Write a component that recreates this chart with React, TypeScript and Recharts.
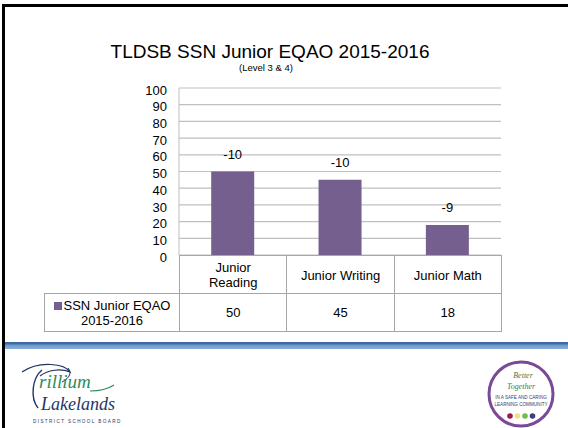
import React from "react";
import { BarChart, Bar, XAxis, YAxis, CartesianGrid, LabelList } from "recharts";

const categories = ["Junior Reading", "Junior Writing", "Junior Math"];
const categoryLines = [["Junior", "Reading"], ["Junior Writing"], ["Junior Math"]];
const seriesName = ["SSN Junior EQAO", "2015-2016"];
const scores = [50, 45, 18];
const changes = [-10, -10, -9];
const yTicks = [0, 10, 20, 30, 40, 50, 60, 70, 80, 90, 100];

const FONT = '"Liberation Sans", Arial, sans-serif';
const SERIF = '"Liberation Serif", "DejaVu Serif", serif';
const BAR = "#755F8E";
const GRID = "#BFBFBF";

const data = categories.map((c, i) => ({ name: c, score: scores[i], change: changes[i] }));

// plot area in page pixels
const PLOT_L = 179;
const PLOT_R = 501;
const PLOT_T = 88;
const PLOT_B = 255;
const CHART_H = 340;
const Y_W = 50;

const cellW = (PLOT_R - PLOT_L) / categories.length;

function TrilliumLogo() {
  return (
    <svg width={130} height={70} style={{ position: "absolute", left: 10, top: 358 }}>
      <path d="M12 14 C 30 2, 55 6, 60 14 C 50 10, 38 12, 30 18" fill="none" stroke="#1F3566" strokeWidth={1.2} />
      <path d="M58 10 C 62 14, 60 20, 52 24" fill="none" stroke="#1F3566" strokeWidth={1} />
      <path d="M32 12 C 22 20, 20 40, 28 50" fill="none" stroke="#1F3566" strokeWidth={1.4} />
      <text x={29} y={30} fontFamily={SERIF} fontStyle="italic" fontSize={19} fill="#2E8B57">
        rillium
      </text>
      <path d="M80 33 C 90 33, 98 31, 104 27" fill="none" stroke="#2E8B57" strokeWidth={1.2} />
      <text x={31} y={52} fontFamily={SERIF} fontStyle="italic" fontSize={18} fill="#1F3566">
        Lakelands
      </text>
      <text x={23} y={65} fontFamily={FONT} fontSize={4.6} letterSpacing={1.4} fill="#1F3566">
        DISTRICT SCHOOL BOARD
      </text>
    </svg>
  );
}

function BetterTogetherLogo() {
  const dots = ["#9B1B4B", "#F0E08A", "#6DBE45", "#3F3F7F"];
  return (
    <svg width={70} height={70} style={{ position: "absolute", left: 486, top: 359 }}>
      <circle cx={35} cy={35} r={32} fill="#FFFFFF" stroke="#7B4A96" strokeWidth={3} />
      <text x={37} y={19} textAnchor="middle" fontFamily={SERIF} fontStyle="italic" fontSize={8} fill="#3C7A4E">
        Better
      </text>
      <text x={35} y={30} textAnchor="middle" fontFamily={SERIF} fontStyle="italic" fontSize={8} fill="#3C7A4E">
        Together
      </text>
      <text x={35} y={40} textAnchor="middle" fontFamily={FONT} fontSize={4.6} fill="#2A3F7A">
        IN A SAFE AND CARING
      </text>
      <text x={35} y={47} textAnchor="middle" fontFamily={FONT} fontSize={4.6} fill="#2A3F7A">
        LEARNING COMMUNITY
      </text>
      {dots.map((c, i) => (
        <circle key={c} cx={24 + i * 7.5} cy={57} r={2.8} fill={c} />
      ))}
    </svg>
  );
}

function DataTable() {
  const border = "1px solid #A6A6A6";
  const rowH = 38;
  const cell: React.CSSProperties = {
    position: "absolute",
    boxSizing: "border-box",
    display: "flex",
    alignItems: "center",
    justifyContent: "center",
    textAlign: "center",
    fontSize: 13,
    lineHeight: "15px",
    color: "#000",
  };
  return (
    <>
      {categoryLines.map((lines, i) => (
        <div
          key={"c" + i}
          style={{
            ...cell,
            left: PLOT_L + i * cellW,
            top: PLOT_B,
            width: cellW + 1,
            height: rowH + 1,
            borderLeft: border,
            borderRight: border,
            borderTop: border,
            flexDirection: "column",
          }}
        >
          {lines.map((l) => (
            <span key={l}>{l}</span>
          ))}
        </div>
      ))}
      <div
        style={{
          ...cell,
          left: 44,
          top: PLOT_B + rowH,
          width: PLOT_L - 44 + 1,
          height: rowH + 1,
          border,
          flexDirection: "column",
        }}
      >
        <span>
          <span style={{ display: "inline-block", width: 8, height: 8, background: BAR, marginRight: 2 }} />
          {seriesName[0]}
        </span>
        <span>{seriesName[1]}</span>
      </div>
      {scores.map((v, i) => (
        <div
          key={"v" + i}
          style={{
            ...cell,
            left: PLOT_L + i * cellW,
            top: PLOT_B + rowH,
            width: cellW + 1,
            height: rowH + 1,
            border,
          }}
        >
          {v}
        </div>
      ))}
    </>
  );
}

export default function App() {
  return (
    <div
      style={{
        position: "fixed",
        left: 0,
        top: 0,
        width: 568,
        height: 428,
        background: "#FFFFFF",
        fontFamily: FONT,
        overflow: "hidden",
      }}
    >
      {/* slide frame */}
      <div style={{ position: "absolute", left: 2, top: 4, width: 570, height: 430, borderTop: "3px solid #000", borderLeft: "3px solid #000" }} />

      <div style={{ position: "absolute", left: 70, width: 400, top: 40, textAlign: "center", fontSize: 19, lineHeight: "23px", color: "#000" }}>
        TLDSB SSN Junior EQAO 2015-2016
      </div>
      <div style={{ position: "absolute", left: 166, width: 200, top: 62, textAlign: "center", fontSize: 9.5, lineHeight: "12px", color: "#000" }}>
        (Level 3 &amp; 4)
      </div>

      <div style={{ position: "absolute", left: 0, top: 0 }}>
        <BarChart
          width={568}
          height={CHART_H}
          data={data}
          barCategoryGap="30%"
          margin={{ top: PLOT_T, bottom: CHART_H - PLOT_B, left: PLOT_L - Y_W, right: 568 - PLOT_R }}
        >
          <CartesianGrid vertical={false} stroke={GRID} strokeWidth={1.2} />
          <XAxis dataKey="name" hide />
          <YAxis
            domain={[0, 100]}
            ticks={yTicks}
            width={Y_W}
            interval={0}
            tickLine={false}
            axisLine={{ stroke: GRID }}
            tickMargin={6}
            tick={{ fill: "#000", fontSize: 13, fontFamily: FONT, dy: 2 }}
          />
          <Bar dataKey="score" fill={BAR} isAnimationActive={false}>
            <LabelList dataKey="change" position="top" offset={13} fill="#000" fontSize={13} fontFamily={FONT} />
          </Bar>
        </BarChart>
      </div>

      <DataTable />

      {/* footer band */}
      <div
        style={{
          position: "absolute",
          left: 5,
          top: 342,
          width: 563,
          height: 7,
          background: "linear-gradient(#3E6BA6 0%, #3E6BA6 25%, #6E98C9 45%, #8DB0DA 100%)",
        }}
      />

      <TrilliumLogo />
      <BetterTogetherLogo />
    </div>
  );
}
